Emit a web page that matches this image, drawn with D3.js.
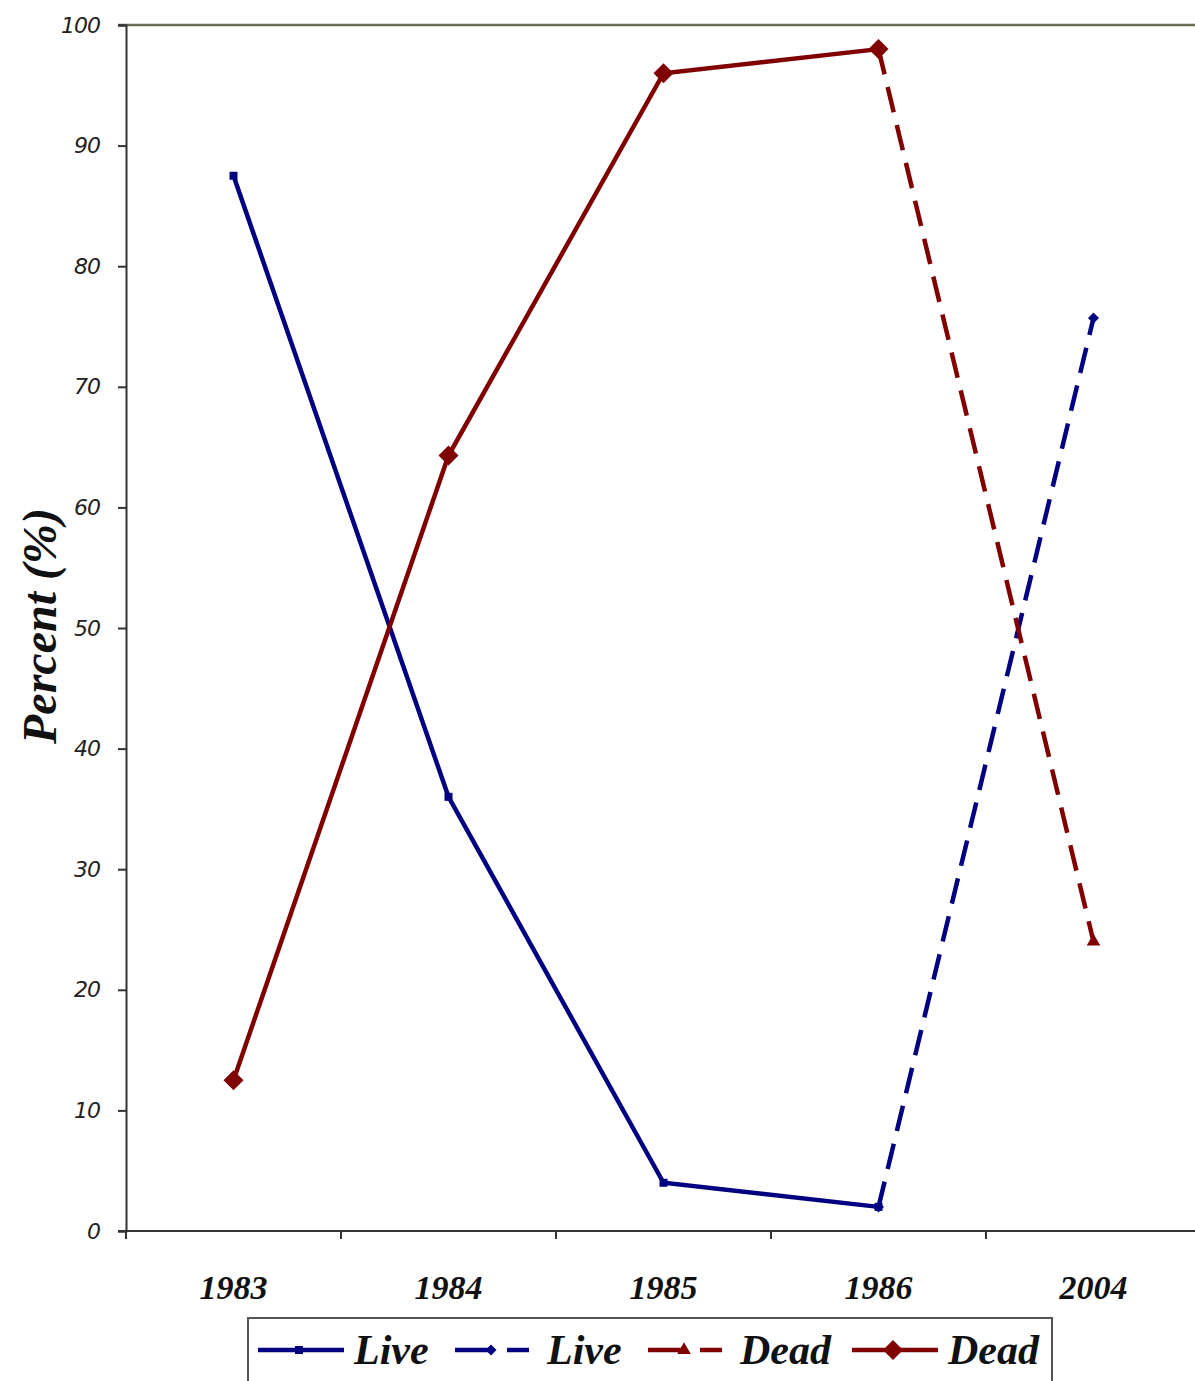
<!DOCTYPE html>
<html>
<head>
<meta charset="utf-8">
<script src="https://cdn.jsdelivr.net/npm/d3@7"></script>
<style>
  body { margin: 0; background: #fff; }
</style>
</head>
<body>
<svg id="chart" width="1195" height="1381"></svg>
<script>
// categories and values
var years = ["1983", "1984", "1985", "1986", "2004"];
var yTicks = [0, 10, 20, 30, 40, 50, 60, 70, 80, 90, 100];

var liveSolid = [["1983", 87.5], ["1984", 36], ["1985", 4], ["1986", 2]];
var liveDashed = [["1986", 2], ["2004", 75.7]];
var deadDashed = [["1986", 98], ["2004", 24]];
var deadSolid = [["1983", 12.5], ["1984", 64.3], ["1985", 96], ["1986", 98]];

var legendItems = [
  {label: "Live", color: "#000080", dash: false, marker: "square"},
  {label: "Live", color: "#000080", dash: true, marker: "diamondSmall"},
  {label: "Dead", color: "#800000", dash: true, marker: "triangle"},
  {label: "Dead", color: "#800000", dash: false, marker: "diamond"}
];

var svg = d3.select("#chart");

var x = d3.scaleBand().domain(years).range([126, 1201]);
var y = d3.scaleLinear().domain([0, 100]).range([1231, 25]);

// plot top border
svg.append("line")
  .attr("x1", 118).attr("x2", 1195)
  .attr("y1", y(100)).attr("y2", y(100))
  .attr("stroke", "#6b6b5a").attr("stroke-width", 2.5);

// y axis
var yAxis = svg.append("g")
  .attr("transform", "translate(126,0)")
  .call(d3.axisLeft(y).tickValues(yTicks).tickSize(8).tickPadding(18));
yAxis.select(".domain").attr("stroke", "#333").attr("stroke-width", 2);
yAxis.selectAll(".tick line").attr("stroke", "#333").attr("stroke-width", 2);
yAxis.selectAll(".tick text")
  .attr("font-family", "DejaVu Sans, sans-serif")
  .attr("font-style", "italic")
  .attr("font-size", "22px")
  .attr("letter-spacing", "-1px")
  .attr("fill", "#222");

// x axis: ticks between the categories
var xAxis = svg.append("g")
  .attr("transform", "translate(0," + y(0) + ")");
xAxis.append("line")
  .attr("x1", 118).attr("x2", 1195)
  .attr("y1", 0).attr("y2", 0)
  .attr("stroke", "#333").attr("stroke-width", 2);
xAxis.selectAll("line.tk")
  .data(years)
  .enter()
  .append("line").attr("class", "tk")
  .attr("x1", function(d){ return x(d); })
  .attr("x2", function(d){ return x(d); })
  .attr("y1", 0).attr("y2", 8)
  .attr("stroke", "#333").attr("stroke-width", 2);
xAxis.selectAll("text")
  .data(years)
  .enter()
  .append("text")
  .attr("x", function(d){ return x(d) + x.bandwidth() / 2; })
  .attr("y", 68)
  .attr("text-anchor", "middle")
  .attr("font-family", "Liberation Serif, serif")
  .attr("font-weight", "bold")
  .attr("font-style", "italic")
  .attr("font-size", "34px")
  .attr("fill", "#111")
  .text(function(d){ return d; });

// y axis title
svg.append("text")
  .attr("transform", "translate(56,626) rotate(-90)")
  .attr("text-anchor", "middle")
  .attr("font-family", "Liberation Serif, serif")
  .attr("font-weight", "bold")
  .attr("font-style", "italic")
  .attr("font-size", "48px")
  .attr("fill", "#111")
  .text("Percent (%)");

var line = d3.line()
  .x(function(d){ return x(d[0]) + x.bandwidth() / 2; })
  .y(function(d){ return y(d[1]); });

function drawSeries(data, color, dashed) {
  svg.append("path")
    .attr("d", line(data))
    .attr("fill", "none")
    .attr("stroke", color)
    .attr("stroke-width", 4.5)
    .attr("stroke-dasharray", dashed ? "26,13" : null);
}

function rhombus(r) {
  return function() { return "M0," + (-r) + "L" + r + ",0L0," + r + "L" + (-r) + ",0Z"; };
}

var symbols = {
  square: d3.symbol().type(d3.symbolSquare).size(64),
  diamondSmall: rhombus(5.5),
  triangle: d3.symbol().type(d3.symbolTriangle).size(80),
  diamond: rhombus(10)
};

function drawMarkers(data, color, marker) {
  svg.append("g").selectAll("path")
    .data(data)
    .enter()
    .append("path")
    .attr("transform", function(d){
      return "translate(" + (x(d[0]) + x.bandwidth() / 2) + "," + y(d[1]) + ")";
    })
    .attr("d", symbols[marker]())
    .attr("fill", color);
}

drawSeries(liveSolid, "#000080", false);
drawSeries(liveDashed, "#000080", true);
drawSeries(deadDashed, "#800000", true);
drawSeries(deadSolid, "#800000", false);
drawMarkers(liveSolid, "#000080", "square");
drawMarkers(liveDashed, "#000080", "diamondSmall");
drawMarkers(deadDashed, "#800000", "triangle");
drawMarkers(deadSolid, "#800000", "diamond");

// legend
var legend = svg.append("g");
legend.append("rect")
  .attr("x", 248).attr("y", 1318)
  .attr("width", 804).attr("height", 70)
  .attr("fill", "#fff")
  .attr("stroke", "#555").attr("stroke-width", 2);

var legendX = [258, 455, 648, 852];
var legendY = 1350;
legendItems.forEach(function(it, i) {
  var x0 = legendX[i];
  if (it.dash) {
    legend.append("line")
      .attr("x1", x0).attr("x2", x0 + 36)
      .attr("y1", legendY).attr("y2", legendY)
      .attr("stroke", it.color).attr("stroke-width", 4.5);
    legend.append("line")
      .attr("x1", x0 + 52).attr("x2", x0 + 74)
      .attr("y1", legendY).attr("y2", legendY)
      .attr("stroke", it.color).attr("stroke-width", 4.5);
  } else {
    legend.append("line")
      .attr("x1", x0).attr("x2", x0 + 86)
      .attr("y1", legendY).attr("y2", legendY)
      .attr("stroke", it.color).attr("stroke-width", 4.5);
  }
  var mx = it.dash ? x0 + 36 : x0 + 41;
  legend.append("path")
    .attr("transform", "translate(" + mx + "," + legendY + ")")
    .attr("d", symbols[it.marker]())
    .attr("fill", it.color);
  legend.append("text")
    .attr("x", x0 + (it.dash ? 92 : 96))
    .attr("y", legendY + 14)
    .attr("font-family", "Liberation Serif, serif")
    .attr("font-weight", "bold")
    .attr("font-style", "italic")
    .attr("font-size", "42px")
    .attr("fill", "#111")
    .text(it.label);
});
</script>
</body>
</html>
